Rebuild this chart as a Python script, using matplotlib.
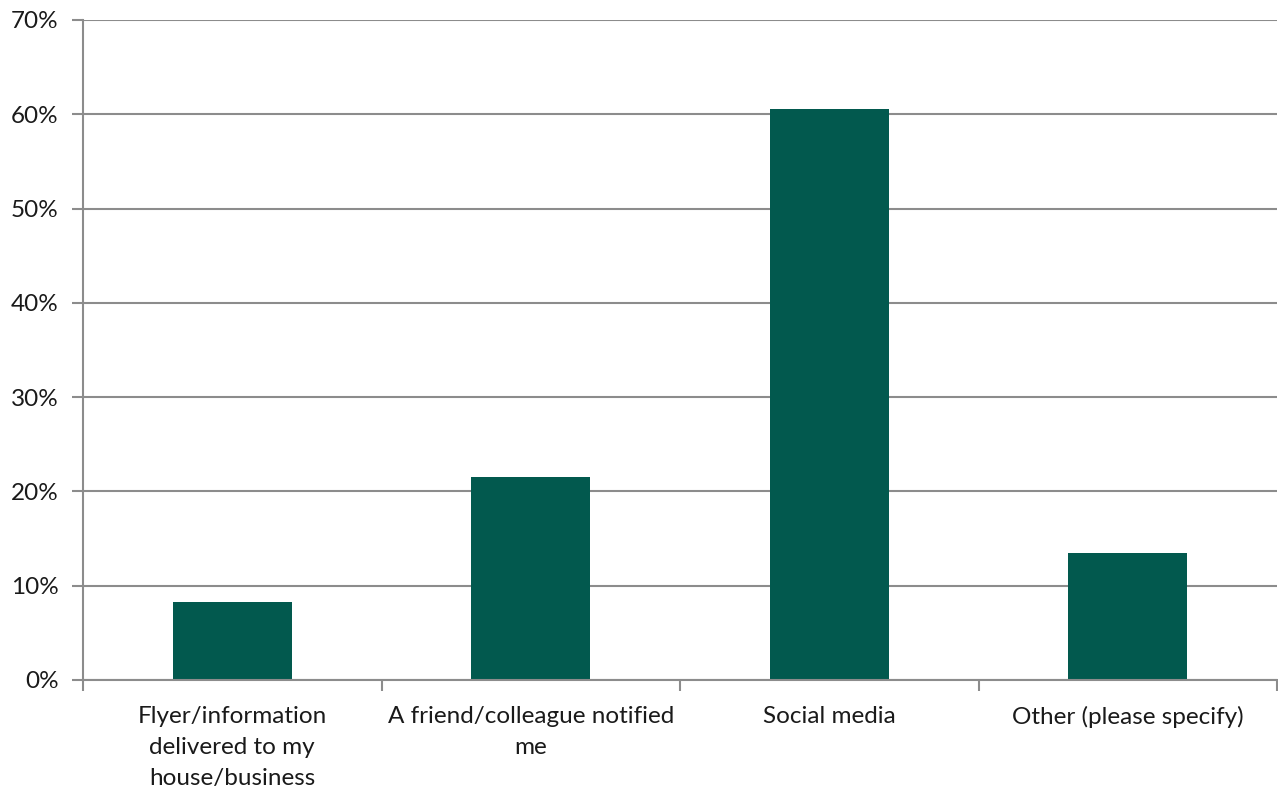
import matplotlib
matplotlib.use("Agg")
import matplotlib.pyplot as plt
from matplotlib.ticker import FixedLocator, PercentFormatter

categories = ["Flyer/information\ndelivered to my\nhouse/business",
              "A friend/colleague notified\nme",
              "Social media",
              "Other (please specify)"]
values = [8.3, 21.5, 60.6, 13.5]
yticks = [0, 10, 20, 30, 40, 50, 60, 70]

plt.rcParams['font.family'] = ['Lato', 'DejaVu Sans']

fig = plt.figure(figsize=(12.78, 7.94), dpi=100)
ax = fig.add_axes([83/1278, 1-680/794, (1277-83)/1278, (680-20)/794])

grid_c = "#8c8c8c"
x = list(range(len(categories)))
ax.bar(x, values, width=0.4, color="#02594e", zorder=3)

ax.set_xlim(-0.5, len(categories)-0.5)
ax.set_ylim(0, 70)
ax.set_yticks(yticks)
ax.yaxis.set_major_formatter(PercentFormatter(decimals=0))
ax.grid(axis="y", color=grid_c, linewidth=1.5, zorder=0)

ax.xaxis.set_major_locator(FixedLocator([i-0.5 for i in range(len(categories)+1)]))
ax.xaxis.set_minor_locator(FixedLocator(x))
ax.set_xticklabels([""]*(len(categories)+1))
ax.set_xticklabels(categories, minor=True)
ax.tick_params(axis="x", which="major", length=8, width=1.5, color=grid_c)
ax.tick_params(axis="x", which="minor", length=0, pad=19, labelsize=17.5, labelcolor="#1a1a1a")
ax.tick_params(axis="y", length=8, width=1.5, color=grid_c, pad=9.5, labelsize=17.5, labelcolor="#1a1a1a")
for lbl in ax.get_xticklabels(minor=True):
    lbl.set_linespacing(1.57)

for s in ["top", "right"]:
    ax.spines[s].set_visible(False)
for s in ["left", "bottom"]:
    ax.spines[s].set_color(grid_c)
    ax.spines[s].set_linewidth(1.5)
    ax.spines[s].set_zorder(4)

fig.savefig("out.png", dpi=100)
